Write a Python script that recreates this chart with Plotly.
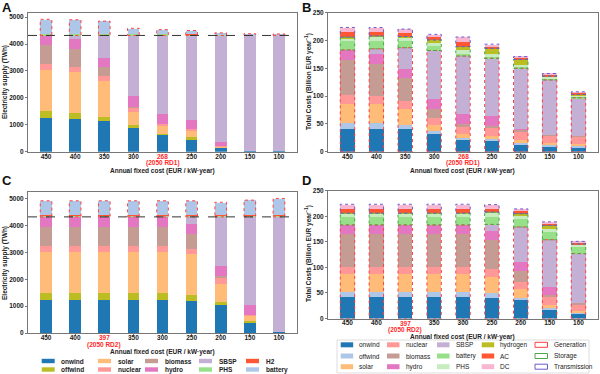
import plotly.graph_objects as go

W, H = 600, 374
FONT = "Liberation Sans, Arial, sans-serif"

# ---------------- data ----------------
cost_AB = ["450", "400", "350", "300", "268", "250", "200", "150", "100"]
cost_CD = ["450", "400", "397", "350", "300", "250", "200", "150", "100"]
highlight_AB = ("268", "(2050 RD1)")
highlight_CD = ("397", "(2050 RD2)")
demand_twh = 4320

# Panel A: electricity supply (TWh)
A_onwind = [1250, 1225, 1160, 910, 640, 475, 150, 50, 40]
A_offwind = [260, 215, 150, 80, 30, 65, 15, 0, 0]
A_solar = [1550, 1535, 1315, 510, 330, 270, 40, 0, 0]
A_nuclear = [200, 185, 185, 140, 40, 60, 20, 0, 0]
A_biomass = [710, 650, 350, 30, 0, 0, 0, 0, 0]
A_hydro = [350, 380, 350, 405, 370, 330, 130, 0, 0]
A_SBSP = [0, 130, 810, 2245, 2910, 3120, 3965, 4270, 4280]
A_PHS = [80, 80, 75, 70, 65, 60, 35, 25, 20]
A_H2 = [2, 2, 2, 2, 2, 2, 2, 2, 2]
A_battery = [516.9, 501.9, 453.8, 191.7, 148.4, 120.7, 58.3, 36.8, 32.5]
A_labels = ["598.9", "583.9", "530.8", "263.7", "215.4", "182.7", "95.3", "63.8", "54.5"]

# Panel C: electricity supply (TWh)
C_onwind = [1250, 1250, 1250, 1250, 1250, 1210, 1060, 410, 40]
C_offwind = [250, 250, 250, 250, 250, 230, 90, 50, 0]
C_solar = [1540, 1540, 1540, 1540, 1540, 1500, 690, 200, 0]
C_nuclear = [210, 210, 210, 210, 210, 185, 220, 20, 0]
C_biomass = [710, 710, 710, 710, 710, 585, 90, 0, 0]
C_hydro = [360, 360, 360, 360, 360, 350, 350, 380, 0]
C_SBSP = [0, 0, 0, 0, 0, 260, 1820, 3260, 4280]
C_PHS = [80, 80, 80, 80, 80, 80, 80, 80, 80]
C_H2 = [2, 2, 2, 2, 2, 2, 2, 2, 2]
C_battery = [516.9, 516.9, 516.9, 516.9, 516.9, 516.6, 461.8, 540.3, 604.3]
C_labels = ["598.9", "598.9", "598.9", "598.9", "598.9", "598.6", "543.8", "622.3", "686.3"]

# Panel B: total costs (billion EUR / year)
B_onwind = [42, 42, 41, 34, 23, 20, 14, 10, 8]
B_offwind = [11, 11, 7, 3, 3, 4, 3, 3, 3]
B_solar = [34, 33, 29, 11, 6, 5, 5, 3, 3]
B_nuclear = [15, 15, 15, 14, 13, 14, 15, 13, 13]
B_biomass = [63, 58, 41, 16, 6, 4, 3, 2, 2]
B_hydro = [18, 18, 16, 18, 17, 17, 2, 0, 0]
B_SBSP = [0, 8, 38, 86, 104, 104, 108, 98, 68]
B_battery = [16, 15, 12, 9, 4, 2, 2, 4, 3]
B_PHS = [6, 7, 7, 5, 7, 7, 5, 2, 2]
B_hydrogen = [1, 1, 1, 5, 6, 9, 9, 1, 1]
B_AC = [9, 8, 7, 5.5, 9, 4, 3.5, 3.5, 3.5]
B_DC = [8.49, 7.28, 6.52, 4.57, 8.27, 3.35, 1.47, 1.11, 1.27]
B_labels = ["223.49", "223.28", "220.52", "211.07", "206.27", "193.35", "170.97", "140.61", "107.77"]

# Panel D: total costs (billion EUR / year)
D_onwind = [42, 42, 42, 42, 42, 41, 38, 18, 10]
D_offwind = [11, 11, 11, 11, 11, 10, 3, 3, 3]
D_solar = [34, 34, 34, 34, 34, 31, 17, 6, 2]
D_nuclear = [15, 15, 15, 15, 15, 15, 14, 16, 13]
D_biomass = [63, 63, 63, 63, 63, 57, 22, 3, 3]
D_hydro = [18, 18, 18, 18, 18, 17, 18, 17, 0]
D_SBSP = [0, 0, 0, 0, 0, 13, 67, 91, 96]
D_battery = [16, 16, 16, 16, 16, 15, 16, 16, 15]
D_PHS = [6, 6, 6, 6, 6, 8, 8, 5, 3]
D_hydrogen = [1, 1, 1, 1, 1, 1, 2, 7, 1]
D_AC = [9, 9, 9, 9, 9, 7.5, 6, 5, 3.5]
D_DC = [8.49, 8.49, 8.49, 8.49, 8.49, 7.25, 3.3, 2.09, 1.41]
D_labels = ["223.49", "223.49", "223.49", "223.49", "223.49", "222.75", "214.30", "189.09", "150.91"]

x_title = "Annual fixed cost (EUR / kW·year)"
y_title_supply = "Electricity supply (TWh)"
y_title_cost = "Total Costs (Billion EUR year<sup>−1</sup>)"

# ---------------- styles ----------------
COL = {
    "onwind": "#1f77b4", "offwind_s": "#bcbd22", "offwind_c": "#aec7e8",
    "solar": "#ffbb78", "nuclear": "#ff9896", "biomass": "#c49c94",
    "hydro": "#e377c2", "SBSP": "#c5b0d5", "PHS_s": "#98df8a",
    "H2": "#ff5733", "battery_s": "#aec7e8", "battery_c": "#98df8a",
    "PHS_c": "#c7ecc0", "hydrogen": "#bcbd22", "AC": "#ff5733", "DC": "#f7b6d2",
}
GEN_BOX = "#ff4040"
STO_BOX = "#4aa84a"
TRA_BOX = "#6a5acd"
HL = "#ff2a2a"
TXT = "#222222"


def fx(p):
    return p / W


def fy(p):
    return 1 - p / H


# pixel boxes of the four plot areas and their label positions
panels = {
    "A": dict(ax="", xd=(28, 297), yd=(12.7, 151.7), xt=171.0, main=156.0, sub=163.2, yt=(5, 82)),
    "B": dict(ax="2", xd=(328, 598), yd=(12.7, 151.7), xt=170.6, main=156.0, sub=163.2, yt=(308, 82)),
    "C": dict(ax="3", xd=(28, 297), yd=(191.7, 333.0), xt=352.0, main=337.6, sub=345.0, yt=(5, 263)),
    "D": dict(ax="4", xd=(328, 598), yd=(190.7, 318.5), xt=336.6, main=323.3, sub=330.3, yt=(308, 254)),
}

fig = go.Figure()
shapes = []
annotations = []


def add_stack(ax, cats, series, width):
    for name, vals, color in series:
        fig.add_trace(go.Bar(
            x=cats, y=vals, name=name, marker=dict(color=color, line=dict(width=0)),
            width=width, xaxis="x" + ax, yaxis="y" + ax, showlegend=False,
        ))


def box(ax, i, w, y0, y1, color):
    shapes.append(dict(type="rect", xref="x" + ax, yref="y" + ax,
                       x0=i - w / 2, x1=i + w / 2, y0=y0, y1=y1,
                       line=dict(color=color, width=1, dash="dot"),
                       fillcolor="rgba(0,0,0,0)", layer="above"))


def value_labels(ax, cats, tops, labels, size):
    for c, t, lab in zip(cats, tops, labels):
        annotations.append(dict(x=c, y=t, xref="x" + ax, yref="y" + ax, text=lab,
                                showarrow=False, yanchor="bottom", yshift=-1,
                                font=dict(family=FONT, size=size, color=TXT, weight="bold")))


supply_tops = {}
# --- supply panels (A, C) ---
for key, cats, on, off, so, nu, bi, hy, sb, phs, h2, bat, labs in [
    ("A", cost_AB, A_onwind, A_offwind, A_solar, A_nuclear, A_biomass, A_hydro, A_SBSP, A_PHS, A_H2, A_battery, A_labels),
    ("C", cost_CD, C_onwind, C_offwind, C_solar, C_nuclear, C_biomass, C_hydro, C_SBSP, C_PHS, C_H2, C_battery, C_labels),
]:
    ax = panels[key]["ax"]
    add_stack(ax, cats, [
        ("onwind", on, COL["onwind"]), ("offwind", off, COL["offwind_s"]),
        ("solar", so, COL["solar"]), ("nuclear", nu, COL["nuclear"]),
        ("biomass", bi, COL["biomass"]), ("hydro", hy, COL["hydro"]),
        ("SBSP", sb, COL["SBSP"]), ("PHS", phs, COL["PHS_s"]),
        ("H2", h2, COL["H2"]), ("battery", bat, COL["battery_s"]),
    ], 0.4)
    tops = []
    for i in range(len(cats)):
        gen = on[i] + off[i] + so[i] + nu[i] + bi[i] + hy[i] + sb[i]
        sto = phs[i] + h2[i] + bat[i]
        box(ax, i, 0.4, gen, gen + sto, GEN_BOX)
        tops.append(gen + sto)
    supply_tops[key] = tops
    value_labels(ax, cats, tops, labs, 5.6)
    shapes.append(dict(type="line", xref="x" + ax + " domain", yref="y" + ax,
                       x0=0, x1=1, y0=demand_twh, y1=demand_twh,
                       line=dict(color="#333", width=1, dash="dash"), layer="above"))

# --- cost panels (B, D) ---
for key, cats, arrs, labs in [
    ("B", cost_AB, [B_onwind, B_offwind, B_solar, B_nuclear, B_biomass, B_hydro, B_SBSP,
                    B_battery, B_PHS, B_hydrogen, B_AC, B_DC], B_labels),
    ("D", cost_CD, [D_onwind, D_offwind, D_solar, D_nuclear, D_biomass, D_hydro, D_SBSP,
                    D_battery, D_PHS, D_hydrogen, D_AC, D_DC], D_labels),
]:
    ax = panels[key]["ax"]
    names = ["onwind", "offwind", "solar", "nuclear", "biomass", "hydro", "SBSP",
             "battery", "PHS", "hydrogen", "AC", "DC"]
    cols = [COL["onwind"], COL["offwind_c"], COL["solar"], COL["nuclear"], COL["biomass"],
            COL["hydro"], COL["SBSP"], COL["battery_c"], COL["PHS_c"], COL["hydrogen"],
            COL["AC"], COL["DC"]]
    add_stack(ax, cats, list(zip(names, arrs, cols)), 0.5)
    tops = []
    for i in range(len(cats)):
        gen = sum(a[i] for a in arrs[:7])
        sto = sum(a[i] for a in arrs[7:10])
        tra = sum(a[i] for a in arrs[10:])
        box(ax, i, 0.5, 0, gen, GEN_BOX)
        box(ax, i, 0.5, gen, gen + sto, STO_BOX)
        box(ax, i, 0.5, gen + sto, gen + sto + tra, TRA_BOX)
        tops.append(gen + sto + tra)
    value_labels(ax, cats, tops, labs, 5.6)

# --- axes ---
tickfont = dict(family=FONT, size=6.5, color=TXT, weight="bold")
titlefont = dict(family=FONT, size=6.5, color=TXT, weight="bold")
hlfont = dict(family=FONT, size=6.5, color=HL, weight="bold")
layout_axes = {}
for key, p in panels.items():
    ax = p["ax"]
    cats = cost_AB if key in ("A", "B") else cost_CD
    hl = highlight_AB if key in ("A", "B") else highlight_CD
    supply = key in ("A", "C")
    w = 0.4 if supply else 0.5
    pad = w / 2 + 0.05 * (8 + w)
    ymax = max(supply_tops[key]) * 1.05 if supply else 250
    plain = [c for c in cats if c != hl[0]]
    layout_axes["xaxis" + ax] = dict(
        domain=[fx(p["xd"][0]), fx(p["xd"][1])], anchor="y" + ax, type="category",
        categoryorder="array", categoryarray=cats,
        range=[-pad, len(cats) - 1 + pad], tickmode="array", tickvals=plain,
        ticktext=plain, tickfont=tickfont, ticklabelstandoff=-4,
        showline=True, mirror=True, linecolor="#777", linewidth=1,
        ticks="outside", ticklen=2, tickcolor="#777", showgrid=False, zeroline=False,
    )
    layout_axes["yaxis" + ax] = dict(
        domain=[fy(p["yd"][1]), fy(p["yd"][0])], anchor="x" + ax,
        range=[0, ymax], tickmode="array",
        tickvals=[0, 1000, 2000, 3000, 4000, 5000] if supply else [0, 50, 100, 150, 200, 250],
        tickfont=tickfont, showline=True, mirror=True, linecolor="#777", linewidth=1,
        ticks="outside", ticklen=2, tickcolor="#777", showgrid=False, zeroline=False,
    )
    # highlighted tick label (two red lines), placed along the category axis domain
    idx = cats.index(hl[0])
    xdom = (idx + pad) / (len(cats) - 1 + 2 * pad)
    for txt, ypx in ((hl[0], p["main"]), (hl[1], p["sub"])):
        annotations.append(dict(x=xdom, y=fy(ypx), xref="x" + ax + " domain", yref="paper",
                                text=txt, showarrow=False, xanchor="center", yanchor="middle",
                                font=hlfont))
    # axis titles
    annotations.append(dict(x=fx((p["xd"][0] + p["xd"][1]) / 2), y=fy(p["xt"]),
                            xref="paper", yref="paper", text=x_title, showarrow=False,
                            xanchor="center", yanchor="middle", font=titlefont))
    annotations.append(dict(x=fx(p["yt"][0]), y=fy(p["yt"][1]), xref="paper", yref="paper",
                            text=y_title_supply if supply else y_title_cost, showarrow=False,
                            textangle=-90, xanchor="center", yanchor="middle", font=titlefont))

# panel letters
for key, (x, y) in {"A": (0, 8), "B": (300, 8), "C": (0, 181), "D": (300, 181)}.items():
    annotations.append(dict(x=fx(x), y=fy(y), xref="paper", yref="paper", text=key,
                            showarrow=False, xanchor="left", yanchor="middle",
                            font=dict(family=FONT, size=13, color="#111", weight="bold")))

# --- legend for supply panels (drawn under panel C) ---
legC_names = [["onwind", "offwind"], ["solar", "nuclear"], ["biomass", "hydro"],
              ["SBSP", "PHS"], ["H2", "battery"]]
legC_cols = [[COL["onwind"], COL["offwind_s"]], [COL["solar"], COL["nuclear"]],
             [COL["biomass"], COL["hydro"]], [COL["SBSP"], COL["PHS_s"]],
             [COL["H2"], COL["battery_s"]]]
legC_x = [41.7, 98, 145, 199, 246]
legC_y = [361, 369.5]
for ci, xs in enumerate(legC_x):
    for ri, yc in enumerate(legC_y):
        shapes.append(dict(type="rect", xref="paper", yref="paper",
                           x0=fx(xs), x1=fx(xs + 13), y0=fy(yc + 2.2), y1=fy(yc - 2.2),
                           fillcolor=legC_cols[ci][ri], line=dict(width=0)))
        annotations.append(dict(x=fx(xs + 17.5), y=fy(yc), xref="paper", yref="paper",
                                text=legC_names[ci][ri], showarrow=False, xanchor="left",
                                yanchor="middle",
                                font=dict(family=FONT, size=6.5, color=TXT, weight="bold")))

# --- legend for cost panels (drawn under panel D) ---
legD_names = [["onwind", "offwind", "solar"], ["nuclear", "biomass", "hydro"],
              ["SBSP", "battery", "PHS"], ["hydrogen", "AC", "DC"],
              ["Generation", "Storage", "Transmission"]]
legD_cols = [[COL["onwind"], COL["offwind_c"], COL["solar"]],
             [COL["nuclear"], COL["biomass"], COL["hydro"]],
             [COL["SBSP"], COL["battery_c"], COL["PHS_c"]],
             [COL["hydrogen"], COL["AC"], COL["DC"]],
             [GEN_BOX, STO_BOX, TRA_BOX]]
legD_x = [340.7, 387, 437, 481.7, 535]
legD_y = [344.8, 356, 366.7]
shapes.append(dict(type="rect", xref="paper", yref="paper", x0=fx(337), x1=fx(589),
                   y0=fy(373), y1=fy(340), line=dict(color="#dddddd", width=1),
                   fillcolor="white", layer="below"))
for ci, xs in enumerate(legD_x):
    for ri, yc in enumerate(legD_y):
        outline = ci == 4
        shapes.append(dict(type="rect", xref="paper", yref="paper",
                           x0=fx(xs), x1=fx(xs + 12.5), y0=fy(yc + 2.5), y1=fy(yc - 2.5),
                           fillcolor="white" if outline else legD_cols[ci][ri],
                           line=dict(width=1 if outline else 0, color=legD_cols[ci][ri])))
        annotations.append(dict(x=fx(xs + 16.5), y=fy(yc), xref="paper", yref="paper",
                                text=legD_names[ci][ri], showarrow=False, xanchor="left",
                                yanchor="middle",
                                font=dict(family=FONT, size=6.5, color=TXT)))

fig.update_layout(
    width=W, height=H, margin=dict(l=0, r=0, t=0, b=0, autoexpand=False),
    paper_bgcolor="white", plot_bgcolor="white", barmode="stack", bargap=0,
    showlegend=False, font=dict(family=FONT, size=7, color=TXT),
    shapes=shapes, annotations=annotations, **layout_axes,
)

fig.write_html("out.html", config={"displayModeBar": False},
               post_script="document.body.style.margin='0';document.body.style.overflow='hidden';")
